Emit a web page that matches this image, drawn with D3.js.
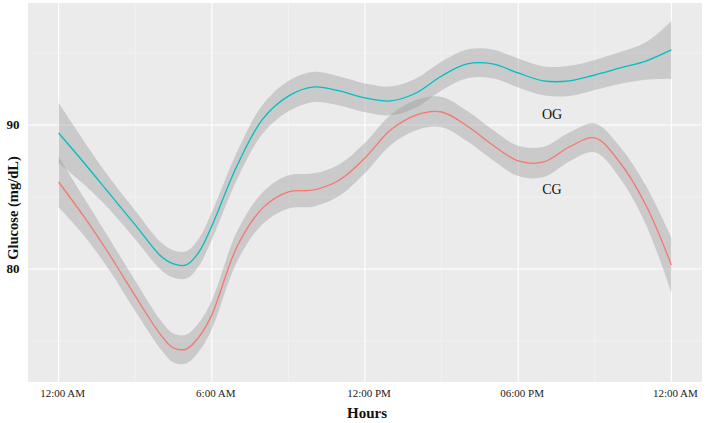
<!DOCTYPE html>
<html>
<head>
<meta charset="utf-8">
<script src="https://cdn.jsdelivr.net/npm/d3@7"></script>
<style>
	body { margin: 0; background: #ffffff; }
	#chart { width: 708px; height: 423px; }
</style>
</head>
<body>
<div id="chart"></div>
<script>
// hours after midnight (finer around the early-morning dip)
var hours = [0, 1, 2, 3, 4, 4.5, 5, 5.5, 6, 7, 8, 9, 10, 11, 12, 13, 14, 15, 16, 17, 18, 19, 20, 21, 22, 23, 24];

var ogValues = [89.44, 87.36, 85.21, 83.06, 80.9, 80.35, 80.28, 81.18, 82.99, 87.22, 90.42, 92.0, 92.64, 92.36, 91.88, 91.67, 92.22, 93.4, 94.24, 94.24, 93.61, 93.06, 93.06, 93.47, 93.96, 94.44, 95.21];
var ogBand = [2.1, 1.5, 1.1, 1.0, 0.95, 0.95, 0.95, 0.95, 0.95, 0.95, 1.0, 1.05, 1.05, 1.0, 1.0, 1.0, 1.0, 1.0, 1.0, 1.0, 1.0, 1.0, 1.05, 1.05, 1.1, 1.3, 2.0];

var cgValues = [86.04, 83.61, 80.97, 78.13, 75.42, 74.51, 74.44, 75.28, 76.81, 81.6, 84.24, 85.35, 85.49, 86.18, 87.71, 89.65, 90.69, 90.9, 89.93, 88.61, 87.5, 87.43, 88.47, 89.1, 87.36, 84.44, 80.28];
var cgBand = [1.75, 1.3, 1.1, 1.05, 1.0, 1.0, 1.0, 1.0, 1.0, 1.05, 1.1, 1.15, 1.15, 1.1, 1.05, 1.05, 1.05, 1.05, 1.05, 1.05, 1.05, 1.05, 1.0, 1.0, 1.1, 1.35, 1.9];

var xMajor = [0, 6, 12, 18, 24];
var xMinor = [3, 9, 15, 21];
var xTickLabels = ["12:00 AM", "6:00 AM", "12:00 PM", "06:00 PM", "12:00 AM"];
var yMajor = [80, 90];
var yMinor = [75, 85, 95];

var w = 708, h = 423;
var panel = { left: 28, right: 702, top: 3, bottom: 382 };

var svg = d3.select("#chart").append("svg")
	.attr("width", w)
	.attr("height", h);

var x = d3.scaleLinear().domain([-1.2, 25.2]).range([panel.left, panel.right]);
var y = d3.scaleLinear().domain([72.15, 98.47]).range([panel.bottom, panel.top]);

svg.append("rect")
	.attr("x", panel.left)
	.attr("y", panel.top)
	.attr("width", panel.right - panel.left)
	.attr("height", panel.bottom - panel.top)
	.style("fill", "#ebebeb");

// grid, minor first
svg.selectAll(".ygrid-minor").data(yMinor).enter().append("line")
	.attr("x1", panel.left).attr("x2", panel.right)
	.attr("y1", function(d) { return y(d); }).attr("y2", function(d) { return y(d); })
	.style("stroke", "#f7f7f7").style("stroke-width", 0.6);
svg.selectAll(".xgrid-minor").data(xMinor).enter().append("line")
	.attr("y1", panel.top).attr("y2", panel.bottom)
	.attr("x1", function(d) { return x(d); }).attr("x2", function(d) { return x(d); })
	.style("stroke", "#f7f7f7").style("stroke-width", 0.6);
svg.selectAll(".ygrid").data(yMajor).enter().append("line")
	.attr("x1", panel.left).attr("x2", panel.right)
	.attr("y1", function(d) { return y(d); }).attr("y2", function(d) { return y(d); })
	.style("stroke", "#ffffff").style("stroke-width", 1.1);
svg.selectAll(".xgrid").data(xMajor).enter().append("line")
	.attr("y1", panel.top).attr("y2", panel.bottom)
	.attr("x1", function(d) { return x(d); }).attr("x2", function(d) { return x(d); })
	.style("stroke", "#ffffff").style("stroke-width", 1.1);

var series = [
	{ name: "OG", values: ogValues, band: ogBand, color: "#00bfc4" },
	{ name: "CG", values: cgValues, band: cgBand, color: "#f8766d" }
];

var area = d3.area()
	.x(function(d) { return x(d.h); })
	.y0(function(d) { return y(d.v - d.se); })
	.y1(function(d) { return y(d.v + d.se); })
	.curve(d3.curveCatmullRom.alpha(0.5));

var line = d3.line()
	.x(function(d) { return x(d.h); })
	.y(function(d) { return y(d.v); })
	.curve(d3.curveCatmullRom.alpha(0.5));

series.forEach(function(s) {
	s.points = hours.map(function(hr, i) {
		return { h: hr, v: s.values[i], se: s.band[i] };
	});
});

series.forEach(function(s) {
	svg.append("path")
		.datum(s.points)
		.attr("d", area)
		.style("fill", "#999999")
		.style("opacity", 0.4);
});
series.forEach(function(s) {
	svg.append("path")
		.datum(s.points)
		.attr("d", line)
		.style("fill", "none")
		.style("stroke", s.color)
		.style("stroke-width", 1.3);
});

// direct labels
svg.append("text")
	.attr("x", 552).attr("y", 119)
	.text("OG")
	.attr("font-family", "Liberation Serif")
	.attr("font-size", "14px")
	.style("text-anchor", "middle")
	.style("fill", "#111");
svg.append("text")
	.attr("x", 552).attr("y", 194)
	.text("CG")
	.attr("font-family", "Liberation Serif")
	.attr("font-size", "14px")
	.style("text-anchor", "middle")
	.style("fill", "#111");

// axes
svg.selectAll(".xlab").data(xMajor).enter().append("text")
	.attr("x", function(d) { return x(d) + 4; })
	.attr("y", 397)
	.text(function(d, i) { return xTickLabels[i]; })
	.attr("font-family", "Liberation Serif")
	.attr("font-size", "11px")
	.style("text-anchor", "middle")
	.style("fill", "#222");

svg.selectAll(".ylab").data(yMajor).enter().append("text")
	.attr("x", 13)
	.attr("y", function(d) { return y(d) + 4.5; })
	.text(function(d) { return d; })
	.attr("font-family", "Liberation Serif")
	.attr("font-size", "13px")
	.attr("font-weight", "bold")
	.style("text-anchor", "middle")
	.style("fill", "#111");

svg.append("text")
	.attr("x", 367).attr("y", 418)
	.text("Hours")
	.attr("font-family", "Liberation Serif")
	.attr("font-size", "15px")
	.attr("font-weight", "bold")
	.style("text-anchor", "middle")
	.style("fill", "#111");

svg.append("text")
	.attr("transform", "translate(18,208) rotate(-90)")
	.text("Glucose (mg/dL)")
	.attr("font-family", "Liberation Serif")
	.attr("font-size", "14.5px")
	.attr("font-weight", "bold")
	.style("text-anchor", "middle")
	.style("fill", "#111");
</script>
</body>
</html>
